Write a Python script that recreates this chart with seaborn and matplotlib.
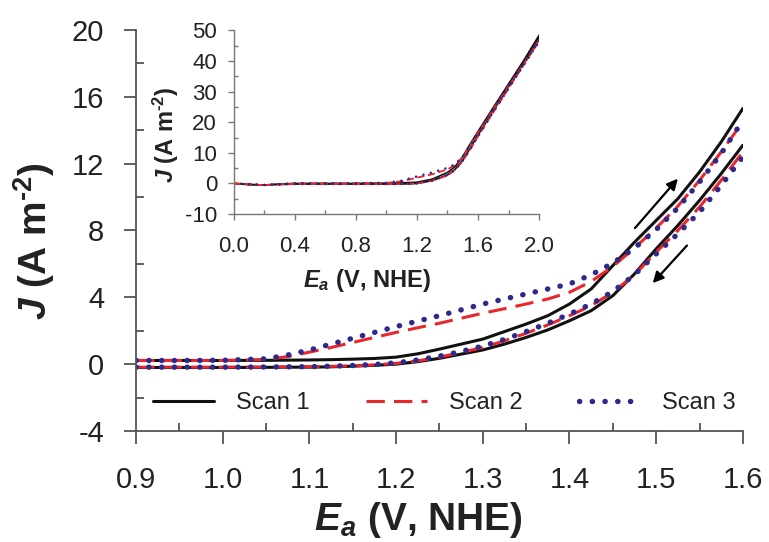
import numpy as np
import seaborn as sns
import matplotlib.pyplot as plt
from matplotlib.ticker import MultipleLocator, FormatStrFormatter

# ---- main plot data: anodic potential (V vs NHE) and current density (A m-2)
E_main = [0.90, 0.95, 1.00, 1.05, 1.075, 1.10, 1.125, 1.15, 1.175, 1.20,
          1.225, 1.25, 1.275, 1.30, 1.325, 1.35, 1.375, 1.40, 1.425, 1.45,
          1.475, 1.50, 1.525, 1.55, 1.575, 1.60]

# forward sweep (upper branch)
scan1_fwd = [0.22, 0.22, 0.22, 0.23, 0.24, 0.25, 0.27, 0.30, 0.34, 0.42,
             0.62, 0.90, 1.20, 1.50, 1.95, 2.40, 2.90, 3.60, 4.50, 5.90,
             7.30, 8.60, 9.90, 11.5, 13.3, 15.3]
scan2_fwd = [0.22, 0.22, 0.22, 0.28, 0.45, 0.72, 1.00, 1.30, 1.60, 1.90,
             2.18, 2.45, 2.75, 3.05, 3.32, 3.60, 3.90, 4.30, 4.95, 5.85,
             6.95, 8.15, 9.45, 11.0, 12.7, 14.5]
scan3_fwd = [0.22, 0.22, 0.23, 0.32, 0.55, 0.85, 1.20, 1.55, 1.90, 2.25,
             2.58, 2.90, 3.25, 3.60, 3.90, 4.20, 4.50, 4.80, 5.35, 6.05,
             6.95, 8.05, 9.35, 10.9, 12.6, 14.6]

# reverse sweep (lower branch)
scan1_rev = [-0.20, -0.20, -0.20, -0.19, -0.18, -0.18, -0.16, -0.12, -0.07, 0.00,
             0.15, 0.35, 0.60, 0.85, 1.20, 1.60, 2.05, 2.60, 3.20, 4.10,
             5.40, 6.90, 8.30, 9.80, 11.4, 13.1]
scan2_rev = [-0.18, -0.18, -0.18, -0.17, -0.16, -0.15, -0.13, -0.10, -0.04, 0.05,
             0.20, 0.42, 0.70, 1.00, 1.40, 1.85, 2.35, 2.90, 3.50, 4.30,
             5.35, 6.70, 8.00, 9.40, 11.0, 12.7]
scan3_rev = [-0.18, -0.18, -0.18, -0.17, -0.16, -0.15, -0.12, -0.08, -0.02, 0.08,
             0.25, 0.48, 0.76, 1.08, 1.48, 1.95, 2.45, 3.00, 3.60, 4.35,
             5.35, 6.60, 7.80, 9.10, 10.7, 12.4]

# ---- inset data: full potential window
E_inset = [0.0, 0.1, 0.2, 0.3, 0.4, 0.6, 0.8, 1.0, 1.1, 1.2,
           1.3, 1.4, 1.45, 1.5, 1.55, 1.6, 1.7, 1.8, 1.9, 2.0]
in1_fwd = [0.0, -0.3, -0.5, -0.2, 0.0, 0.0, 0.0, 0.1, 0.2, 0.4,
           1.4, 3.6, 5.5, 8.8, 13.0, 17.0, 24.8, 32.5, 40.2, 48.4]
in1_rev = [0.0, -0.4, -0.5, -0.3, -0.2, -0.2, -0.2, -0.2, -0.2, 0.0,
           0.9, 2.8, 4.6, 7.6, 11.6, 15.8, 23.8, 31.6, 39.4, 47.6]
in2_fwd = [0.0, -0.2, -0.6, -0.3, 0.0, 0.1, 0.1, 0.2, 0.7, 1.9,
           3.0, 4.6, 6.0, 8.7, 12.6, 16.6, 24.2, 31.8, 39.2, 46.8]
in2_rev = [0.0, -0.3, -0.6, -0.3, -0.2, -0.2, -0.2, -0.2, -0.2, 0.0,
           0.9, 2.6, 4.4, 7.3, 11.2, 15.4, 23.2, 31.0, 38.8, 46.4]
in3_fwd = [0.0, -0.2, -0.5, -0.2, 0.1, 0.1, 0.1, 0.2, 0.9, 2.3,
           3.6, 5.1, 6.3, 8.8, 12.6, 16.5, 24.0, 31.5, 39.0, 46.8]
in3_rev = [0.0, -0.3, -0.5, -0.3, -0.2, -0.2, -0.2, -0.2, -0.2, 0.05,
           0.95, 2.7, 4.5, 7.4, 11.3, 15.4, 23.3, 31.0, 38.7, 46.3]

scan_names = ['Scan 1', 'Scan 2', 'Scan 3']

sns.set_style('ticks')
plt.rcParams['font.family'] = ['Liberation Sans', 'DejaVu Sans']
plt.rcParams['mathtext.fontset'] = 'custom'
plt.rcParams['mathtext.rm'] = 'Liberation Sans'
plt.rcParams['mathtext.it'] = 'Liberation Sans:italic'
plt.rcParams['mathtext.bf'] = 'Liberation Sans:bold'
plt.rcParams['mathtext.bfit'] = 'Liberation Sans:italic:bold'
plt.rcParams['axes.unicode_minus'] = False

# dotted lines: tiny dashes with round caps give round dots
main_styles = {
    'Scan 1': dict(color='#111111', linestyle='-', linewidth=2.2),
    'Scan 2': dict(color='#e8262b', linestyle=(0, (6, 3)), linewidth=2.2),
    'Scan 3': dict(color='#2e2a8c', linestyle=(0, (0.05, 2.3)), linewidth=3.9,
                   dash_capstyle='round'),
}
inset_styles = {
    'Scan 1': dict(color='#111111', linestyle='-', linewidth=1.2),
    'Scan 2': dict(color='#e8262b', linestyle=(0, (4, 2)), linewidth=1.3),
    'Scan 3': dict(color='#2e2a8c', linestyle=(0, (0.05, 3)), linewidth=1.8,
                   dash_capstyle='round'),
}

fig = plt.figure(figsize=(7.69, 5.42), dpi=100)
ax = fig.add_axes([0.177, 0.2048, 0.789, 0.7399])
axin = fig.add_axes([0.304, 0.605, 0.397, 0.339])

# main curves
main_data = [(scan1_fwd, scan1_rev), (scan2_fwd, scan2_rev), (scan3_fwd, scan3_rev)]
for name, (fwd, rev) in zip(scan_names, main_data):
    st = main_styles[name]
    sns.lineplot(x=E_main, y=fwd, ax=ax, sort=False, estimator=None, label=name, **st)
    sns.lineplot(x=E_main, y=rev, ax=ax, sort=False, estimator=None, **st)

# inset curves
inset_data = [(in1_fwd, in1_rev), (in2_fwd, in2_rev), (in3_fwd, in3_rev)]
for name, (fwd, rev) in zip(scan_names, inset_data):
    st = inset_styles[name]
    sns.lineplot(x=E_inset, y=fwd, ax=axin, sort=False, estimator=None, legend=False, **st)
    sns.lineplot(x=E_inset, y=rev, ax=axin, sort=False, estimator=None, legend=False, **st)

spine_col = '#555555'
text_col = '#222222'

# main axes styling
ax.set_xlim(0.9, 1.6)
ax.set_ylim(-4, 20)
ax.xaxis.set_major_locator(MultipleLocator(0.1))
ax.xaxis.set_minor_locator(MultipleLocator(0.05))
ax.xaxis.set_major_formatter(FormatStrFormatter('%.1f'))
ax.yaxis.set_major_locator(MultipleLocator(4))
ax.yaxis.set_minor_locator(MultipleLocator(2))
for side in ['top', 'right']:
    ax.spines[side].set_visible(False)
for side in ['left', 'bottom']:
    ax.spines[side].set_color(spine_col)
    ax.spines[side].set_linewidth(1.3)
ax.tick_params(which='major', direction='out', length=9, width=1.3,
               color=spine_col, labelcolor=text_col, labelsize=21)
ax.tick_params(which='minor', direction='in', length=6, width=1.3, color=spine_col)
ax.tick_params(axis='x', which='major', pad=16)
ax.tick_params(axis='y', which='major', pad=14)
ax.set_xlabel('')
ax.set_ylabel('')

# direction arrows
ax.annotate('', xy=(1.525, 11.1), xytext=(1.4755, 8.14),
            arrowprops=dict(arrowstyle='-|>', color='k', lw=1.6,
                            mutation_scale=16, shrinkA=0, shrinkB=0))
ax.annotate('', xy=(1.496, 4.85), xytext=(1.5355, 7.1),
            arrowprops=dict(arrowstyle='-|>', color='k', lw=1.6,
                            mutation_scale=16, shrinkA=0, shrinkB=0))

handles, labels = ax.get_legend_handles_labels()
ax.legend(handles, labels, loc='center left', bbox_to_anchor=(0.028, 0.069),
          ncol=3, frameon=False, fontsize=17, handlelength=2.6,
          handletextpad=0.9, columnspacing=2.4, borderaxespad=0, borderpad=0,
          labelcolor=text_col)

# inset styling
axin.set_xlim(0, 2.0)
axin.set_ylim(-10, 50)
axin.xaxis.set_major_locator(MultipleLocator(0.4))
axin.xaxis.set_minor_locator(MultipleLocator(0.2))
axin.xaxis.set_major_formatter(FormatStrFormatter('%.1f'))
axin.yaxis.set_major_locator(MultipleLocator(10))
axin.yaxis.set_minor_locator(MultipleLocator(5))
axin.patch.set_alpha(0)
for side in ['top', 'right']:
    axin.spines[side].set_visible(False)
for side in ['left', 'bottom']:
    axin.spines[side].set_color('#777777')
    axin.spines[side].set_linewidth(1.0)
axin.tick_params(which='major', direction='out', length=4, width=1.0,
                 color='#777777', labelcolor=text_col, labelsize=16)
axin.tick_params(which='minor', direction='in', length=3, width=1.0, color='#777777')
axin.tick_params(axis='x', which='major', pad=12)
axin.tick_params(axis='y', which='major', pad=8)
axin.set_xlabel('')
axin.set_ylabel('')

# axis titles placed in figure coordinates
W, H = 769, 542
J_label = '$\\mathbfit{J}$ (A m$^{\\mathbf{\u2010}\\mathbf{2}}$)'
E_label = r'$\mathbfit{E}_{\mathbfit{a}}$ (V, NHE)'
fig.text(418 / W, 1 - 520 / H, E_label,
         fontsize=28, fontweight='bold', ha='center', va='center', color=text_col)
fig.text(34 / W, 1 - 241 / H, J_label, rotation=90,
         fontsize=28, fontweight='bold', ha='center', va='center', color=text_col)
fig.text(367 / W, 1 - 281 / H, E_label,
         fontsize=17, fontweight='bold', ha='center', va='center', color=text_col)
fig.text(166 / W, 1 - 135 / H, J_label, rotation=90,
         fontsize=17, fontweight='bold', ha='center', va='center', color=text_col)

fig.savefig('out.png', dpi=100)
